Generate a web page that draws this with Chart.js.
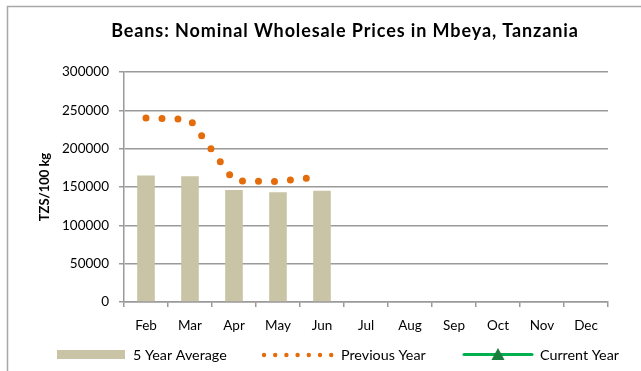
<!DOCTYPE html>
<html>
<head>
<meta charset="utf-8">
<script src="https://cdn.jsdelivr.net/npm/chart.js@4/dist/chart.umd.min.js"></script>
<style>
  html, body { margin: 0; padding: 0; background: #fff; }
  #wrap { width: 641px; height: 371px; position: relative; }
</style>
</head>
<body>
<div id="wrap"><canvas id="c" width="641" height="371"></canvas></div>
<script>
// Monthly wholesale bean prices, TZS per 100 kg
const months = ['Feb', 'Mar', 'Apr', 'May', 'Jun', 'Jul', 'Aug', 'Sep', 'Oct', 'Nov', 'Dec'];
const fiveYearAverage = [165000, 164000, 146000, 143000, 145000, null, null, null, null, null, null];
const previousYear = [240000, 238000, 158000, 157000, 164000, null, null, null, null, null, null];
const currentYear = [null, null, null, null, null, null, null, null, null, null, null];
const yTicks = [0, 50000, 100000, 150000, 200000, 250000, 300000];

const chartTitle = 'Beans: Nominal Wholesale Prices in Mbeya, Tanzania';
const yTitle = 'TZS/100 kg';

const FONT = 'Lato';
const COL_BAR = '#c9c4a6';
const COL_PREV = '#e46c0a';
const COL_CUR = '#00b050';
const COL_CUR_MARK = '#1a7f3c';
const COL_GRID = '#9a9a9a';

Chart.defaults.font.family = FONT;
Chart.defaults.font.size = 13.5;
Chart.defaults.color = '#000';

// Frame, title and legend drawn straight onto the canvas
const decorations = {
  id: 'decorations',
  beforeDraw(chart) {
    const ctx = chart.ctx;
    ctx.save();
    ctx.fillStyle = '#fff';
    ctx.fillRect(0, 0, chart.width, chart.height);
    ctx.strokeStyle = '#a8a8a8';
    ctx.lineWidth = 1.5;
    ctx.beginPath();
    ctx.moveTo(7.5, chart.height);
    ctx.lineTo(7.5, 6.5);
    ctx.lineTo(chart.width, 6.5);
    ctx.stroke();
    ctx.restore();
  },
  afterDraw(chart) {
    const ctx = chart.ctx;
    ctx.save();
    // title
    ctx.fillStyle = '#000';
    ctx.font = 'bold 18px ' + FONT;
    ctx.letterSpacing = '0.9px';
    ctx.textAlign = 'center';
    ctx.textBaseline = 'middle';
    ctx.fillText(chartTitle, 345, 31);
    ctx.letterSpacing = '0px';

    // legend
    const ly = 355;
    ctx.font = '14.3px ' + FONT;
    ctx.textAlign = 'left';
    const ds = chart.data.datasets;

    ctx.fillStyle = ds[0].backgroundColor;
    ctx.fillRect(57, 350, 68, 9);
    ctx.fillStyle = '#000';
    ctx.fillText(ds[0].label, 133, ly);

    ctx.fillStyle = ds[1].borderColor;
    for (let i = 0; i < 7; i++) {
      ctx.beginPath();
      ctx.arc(264 + i * 11.2, ly, 2.2, 0, Math.PI * 2);
      ctx.fill();
    }
    ctx.fillStyle = '#000';
    ctx.fillText(ds[1].label, 341, ly);

    ctx.strokeStyle = ds[2].borderColor;
    ctx.lineWidth = 3;
    ctx.lineCap = 'round';
    ctx.beginPath();
    ctx.moveTo(464, ly - 0.5);
    ctx.lineTo(532, ly - 0.5);
    ctx.stroke();
    ctx.fillStyle = ds[2].pointBackgroundColor;
    ctx.beginPath();
    ctx.moveTo(498, 348);
    ctx.lineTo(504.5, 360);
    ctx.lineTo(491.5, 360);
    ctx.closePath();
    ctx.fill();
    ctx.fillStyle = '#000';
    ctx.fillText(ds[2].label, 540, ly);
    ctx.restore();
  }
};

new Chart(document.getElementById('c'), {
  type: 'bar',
  data: {
    labels: months,
    datasets: [
      {
        type: 'bar',
        label: '5 Year Average',
        data: fiveYearAverage,
        backgroundColor: COL_BAR,
        borderWidth: 0,
        categoryPercentage: 1,
        barPercentage: 0.4,
        order: 3
      },
      {
        type: 'line',
        label: 'Previous Year',
        data: previousYear,
        borderColor: COL_PREV,
        backgroundColor: COL_PREV,
        borderWidth: 7,
        borderDash: [0, 16],
        borderCapStyle: 'round',
        pointRadius: 0,
        tension: 0,
        fill: false,
        spanGaps: false,
        order: 2
      },
      {
        type: 'line',
        label: 'Current Year',
        data: currentYear,
        borderColor: COL_CUR,
        backgroundColor: COL_CUR,
        pointBackgroundColor: COL_CUR_MARK,
        pointStyle: 'triangle',
        borderWidth: 3,
        pointRadius: 6,
        fill: false,
        order: 1
      }
    ]
  },
  options: {
    responsive: false,
    animation: false,
    devicePixelRatio: 1,
    layout: { padding: { left: 33, right: 33, top: 72, bottom: 39 } },
    plugins: {
      legend: { display: false },
      title: { display: false },
      tooltip: { enabled: false }
    },
    scales: {
      x: {
        offset: true,
        grid: {
          offset: true,
          drawOnChartArea: false,
          drawTicks: true,
          tickLength: 5,
          color: COL_GRID,
          lineWidth: 1.5
        },
        border: { color: COL_GRID, width: 1.5 },
        ticks: { padding: 11, color: '#000', maxRotation: 0, autoSkip: false },
        afterFit(scale) { scale.height = 30; }
      },
      y: {
        min: 0,
        max: 300000,
        afterBuildTicks(scale) { scale.ticks = yTicks.map(v => ({ value: v })); },
        grid: {
          color: COL_GRID,
          lineWidth: 1.5,
          drawTicks: true,
          tickLength: 5
        },
        border: { color: COL_GRID, width: 1.5 },
        ticks: { padding: 10, color: '#000', callback: v => String(v) },
        title: {
          display: true,
          text: yTitle,
          font: { weight: 'bold', size: 13 },
          color: '#000',
          padding: { top: 4, bottom: 0 }
        },
        afterFit(scale) { scale.width = 91; }
      }
    }
  },
  plugins: [decorations]
});
</script>
</body>
</html>
